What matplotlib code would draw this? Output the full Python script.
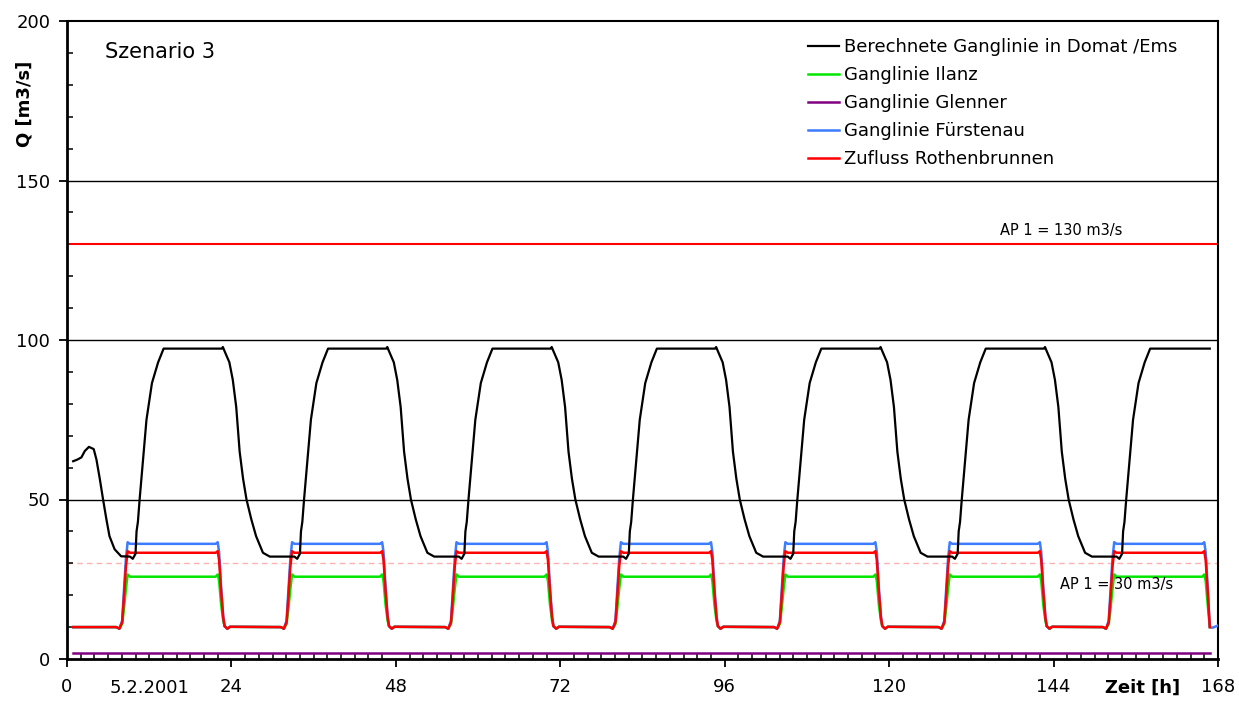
import matplotlib
matplotlib.use("Agg")
import matplotlib.pyplot as plt
from matplotlib.ticker import MultipleLocator, FixedLocator
import matplotlib.transforms as mtransforms

# --- Berechnete Ganglinie Domat/Ems [m3/s] -------------------------------
domat_h = [
    0.9, 1.5, 2.1, 2.6, 3.2, 3.9, 4.3, 4.8, 5.25, 5.75, 6.2, 6.95, 7.9,
    9.2, 9.6, 10.0, 10.15, 10.35, 10.6, 11.1, 11.6, 12.4, 13.3, 14.1, 22.6, 22.75,
    23.0, 23.7, 24.2, 24.7, 25.2, 25.7, 26.2, 26.9, 27.6, 28.6, 29.6,
    33.2, 33.6, 34.0, 34.15, 34.35, 34.6, 35.1, 35.6, 36.4, 37.3, 38.1, 46.6, 46.75,
    47.0, 47.7, 48.2, 48.7, 49.2, 49.7, 50.2, 50.9, 51.6, 52.6, 53.6,
    57.2, 57.6, 58.0, 58.15, 58.35, 58.6, 59.1, 59.6, 60.4, 61.3, 62.1, 70.6, 70.75,
    71.0, 71.7, 72.2, 72.7, 73.2, 73.7, 74.2, 74.9, 75.6, 76.6, 77.6,
    81.2, 81.6, 82.0, 82.15, 82.35, 82.6, 83.1, 83.6, 84.4, 85.3, 86.1, 94.6, 94.75,
    95.0, 95.7, 96.2, 96.7, 97.2, 97.7, 98.2, 98.9, 99.6, 100.6, 101.6,
    105.2, 105.6, 106.0, 106.15, 106.35, 106.6, 107.1, 107.6, 108.4, 109.3, 110.1, 118.6, 118.75,
    119.0, 119.7, 120.2, 120.7, 121.2, 121.7, 122.2, 122.9, 123.6, 124.6, 125.6,
    129.2, 129.6, 130.0, 130.15, 130.35, 130.6, 131.1, 131.6, 132.4, 133.3, 134.1, 142.6, 142.75,
    143.0, 143.7, 144.2, 144.7, 145.2, 145.7, 146.2, 146.9, 147.6, 148.6, 149.6,
    153.2, 153.6, 154.0, 154.15, 154.35, 154.6, 155.1, 155.6, 156.4, 157.3, 158.1, 166.8,
]
domat_q = [
    62.0, 62.5, 63.2, 65.2, 66.5, 65.8, 62.5, 56.3, 50.2, 43.8, 38.5, 34.4, 32.2,
    32.1, 31.4, 33.0, 40.0, 43.0, 50.0, 62.5, 75.0, 86.5, 93.0, 97.3, 97.3, 97.8,
    96.5, 93.0, 87.5, 79.0, 65.0, 56.5, 50.0, 43.8, 38.5, 33.3, 32.1,
    32.1, 31.4, 33.0, 40.0, 43.0, 50.0, 62.5, 75.0, 86.5, 93.0, 97.3, 97.3, 97.8,
    96.5, 93.0, 87.5, 79.0, 65.0, 56.5, 50.0, 43.8, 38.5, 33.3, 32.1,
    32.1, 31.4, 33.0, 40.0, 43.0, 50.0, 62.5, 75.0, 86.5, 93.0, 97.3, 97.3, 97.8,
    96.5, 93.0, 87.5, 79.0, 65.0, 56.5, 50.0, 43.8, 38.5, 33.3, 32.1,
    32.1, 31.4, 33.0, 40.0, 43.0, 50.0, 62.5, 75.0, 86.5, 93.0, 97.3, 97.3, 97.8,
    96.5, 93.0, 87.5, 79.0, 65.0, 56.5, 50.0, 43.8, 38.5, 33.3, 32.1,
    32.1, 31.4, 33.0, 40.0, 43.0, 50.0, 62.5, 75.0, 86.5, 93.0, 97.3, 97.3, 97.8,
    96.5, 93.0, 87.5, 79.0, 65.0, 56.5, 50.0, 43.8, 38.5, 33.3, 32.1,
    32.1, 31.4, 33.0, 40.0, 43.0, 50.0, 62.5, 75.0, 86.5, 93.0, 97.3, 97.3, 97.8,
    96.5, 93.0, 87.5, 79.0, 65.0, 56.5, 50.0, 43.8, 38.5, 33.3, 32.1,
    32.1, 31.4, 33.0, 40.0, 43.0, 50.0, 62.5, 75.0, 86.5, 93.0, 97.3, 97.3,
]

# --- Zeitpunkte der Schwallstufen (Ilanz, Fürstenau, Rothenbrunnen) -------
stufen_h = [
    0.9,
    7.2, 7.65, 8.05, 8.3, 8.6, 8.85, 9.2, 21.7, 22.0, 22.2, 22.5, 22.8, 23.0, 23.4, 23.8,
    31.2, 31.65, 32.05, 32.3, 32.6, 32.85, 33.2, 45.7, 46.0, 46.2, 46.5, 46.8, 47.0, 47.4, 47.8,
    55.2, 55.65, 56.05, 56.3, 56.6, 56.85, 57.2, 69.7, 70.0, 70.2, 70.5, 70.8, 71.0, 71.4, 71.8,
    79.2, 79.65, 80.05, 80.3, 80.6, 80.85, 81.2, 93.7, 94.0, 94.2, 94.5, 94.8, 95.0, 95.4, 95.8,
    103.2, 103.65, 104.05, 104.3, 104.6, 104.85, 105.2, 117.7, 118.0, 118.2, 118.5, 118.8, 119.0, 119.4, 119.8,
    127.2, 127.65, 128.05, 128.3, 128.6, 128.85, 129.2, 141.7, 142.0, 142.2, 142.5, 142.8, 143.0, 143.4, 143.8,
    151.2, 151.65, 152.05, 152.3, 152.6, 152.85, 153.2, 165.7, 166.0, 166.2, 166.5, 166.8,
]
ilanz_q = [
    10.0,
    10.0, 9.5, 11.0, 15.5, 22.0, 26.5, 25.8, 25.8, 26.5, 24.5, 17.0, 12.0, 10.3, 9.5, 10.1,
    10.0, 9.5, 11.0, 15.5, 22.0, 26.5, 25.8, 25.8, 26.5, 24.5, 17.0, 12.0, 10.3, 9.5, 10.1,
    10.0, 9.5, 11.0, 15.5, 22.0, 26.5, 25.8, 25.8, 26.5, 24.5, 17.0, 12.0, 10.3, 9.5, 10.1,
    10.0, 9.5, 11.0, 15.5, 22.0, 26.5, 25.8, 25.8, 26.5, 24.5, 17.0, 12.0, 10.3, 9.5, 10.1,
    10.0, 9.5, 11.0, 15.5, 22.0, 26.5, 25.8, 25.8, 26.5, 24.5, 17.0, 12.0, 10.3, 9.5, 10.1,
    10.0, 9.5, 11.0, 15.5, 22.0, 26.5, 25.8, 25.8, 26.5, 24.5, 17.0, 12.0, 10.3, 9.5, 10.1,
    10.0, 9.5, 11.0, 15.5, 22.0, 26.5, 25.8, 25.8, 26.5, 24.5, 17.0, 10.0,
]
fuerstenau_q = [
    10.0,
    10.0, 9.5, 12.0, 21.0, 31.5, 36.6, 36.1, 36.1, 36.6, 33.5, 22.5, 13.5, 10.3, 9.5, 10.1,
    10.0, 9.5, 12.0, 21.0, 31.5, 36.6, 36.1, 36.1, 36.6, 33.5, 22.5, 13.5, 10.3, 9.5, 10.1,
    10.0, 9.5, 12.0, 21.0, 31.5, 36.6, 36.1, 36.1, 36.6, 33.5, 22.5, 13.5, 10.3, 9.5, 10.1,
    10.0, 9.5, 12.0, 21.0, 31.5, 36.6, 36.1, 36.1, 36.6, 33.5, 22.5, 13.5, 10.3, 9.5, 10.1,
    10.0, 9.5, 12.0, 21.0, 31.5, 36.6, 36.1, 36.1, 36.6, 33.5, 22.5, 13.5, 10.3, 9.5, 10.1,
    10.0, 9.5, 12.0, 21.0, 31.5, 36.6, 36.1, 36.1, 36.6, 33.5, 22.5, 13.5, 10.3, 9.5, 10.1,
    10.0, 9.5, 12.0, 21.0, 31.5, 36.6, 36.1, 36.1, 36.6, 33.5, 22.5, 10.0,
]
fuerstenau_ende_h = [167.2, 168.0]
fuerstenau_ende_q = [9.8, 10.5]
rothenbrunnen_q = [
    10.0,
    10.0, 9.5, 11.5, 19.0, 29.0, 33.8, 33.3, 33.3, 33.8, 31.0, 21.0, 13.0, 10.3, 9.5, 10.1,
    10.0, 9.5, 11.5, 19.0, 29.0, 33.8, 33.3, 33.3, 33.8, 31.0, 21.0, 13.0, 10.3, 9.5, 10.1,
    10.0, 9.5, 11.5, 19.0, 29.0, 33.8, 33.3, 33.3, 33.8, 31.0, 21.0, 13.0, 10.3, 9.5, 10.1,
    10.0, 9.5, 11.5, 19.0, 29.0, 33.8, 33.3, 33.3, 33.8, 31.0, 21.0, 13.0, 10.3, 9.5, 10.1,
    10.0, 9.5, 11.5, 19.0, 29.0, 33.8, 33.3, 33.3, 33.8, 31.0, 21.0, 13.0, 10.3, 9.5, 10.1,
    10.0, 9.5, 11.5, 19.0, 29.0, 33.8, 33.3, 33.3, 33.8, 31.0, 21.0, 13.0, 10.3, 9.5, 10.1,
    10.0, 9.5, 11.5, 19.0, 29.0, 33.8, 33.3, 33.3, 33.8, 31.0, 21.0, 10.0,
]
glenner_h = [0.9, 166.9]
glenner_q = [2.0, 2.0]

# Abflussgrenzen (AP 1)
ap_oben = 130
ap_unten = 30

x_ticks = [0, 24, 48, 72, 96, 120, 144, 168]
y_ticks = [0, 50, 100, 150, 200]

labels = [
    "Berechnete Ganglinie in Domat /Ems",
    "Ganglinie Ilanz",
    "Ganglinie Glenner",
    "Ganglinie Fürstenau",
    "Zufluss Rothenbrunnen",
]
colors = ["black", "#00e600", "#800080", "#3d7bff", "#ff0000"]

W, H = 1239, 706
fig = plt.figure(figsize=(W / 100, H / 100), dpi=100)
ax = fig.add_axes([67 / W, 1 - 659 / H, (1218 - 67) / W, (659 - 21) / H])

FS = 13

# Grid lines and limit lines
for yv in (50, 100, 150):
    ax.axhline(yv, color="black", lw=1.0, zorder=1)
ax.axhline(ap_oben, color="#ff0000", lw=1.5, zorder=2)
ax.axhline(ap_unten, color="#ffb0b0", lw=1.0, dashes=(4, 3), zorder=1)

l_dom, = ax.plot(domat_h, domat_q, color=colors[0], lw=1.6, zorder=5)
l_ila, = ax.plot(stufen_h, ilanz_q, color=colors[1], lw=1.8, zorder=3)
l_gle, = ax.plot(glenner_h, glenner_q, color=colors[2], lw=1.8, zorder=3)
l_fue, = ax.plot(stufen_h + fuerstenau_ende_h, fuerstenau_q + fuerstenau_ende_q,
                 color=colors[3], lw=1.8, zorder=3)
l_rot, = ax.plot(stufen_h, rothenbrunnen_q, color=colors[4], lw=1.8, zorder=4)

ax.set_xlim(0, 168)
ax.set_ylim(0, 200)

ax.xaxis.set_major_locator(FixedLocator(x_ticks))
ax.xaxis.set_minor_locator(MultipleLocator(2))
ax.yaxis.set_major_locator(FixedLocator(y_ticks))
ax.yaxis.set_minor_locator(MultipleLocator(10))

ax.tick_params(axis="both", which="major", direction="out", length=6, width=1.3,
               labelsize=FS, colors="black")
ax.tick_params(axis="x", which="major", pad=8)
ax.tick_params(axis="y", which="major", pad=6)
ax.tick_params(axis="both", which="minor", direction="in", length=4.5, width=1.1)

for side in ("left", "bottom"):
    ax.spines[side].set_linewidth(2.0)
for side in ("right", "top"):
    ax.spines[side].set_linewidth(1.5)

# Extra labels on the time axis
trans = mtransforms.blended_transform_factory(ax.transData, ax.transAxes)
ax.text(12, -0.0455, "5.2.2001", transform=trans, ha="center", va="center", fontsize=FS)
ax.text(157, -0.0455, "Zeit [h]", transform=trans, ha="center", va="center",
        fontsize=FS, fontweight="bold")

fig.text(25 / W, 1 - 104 / H, "Q [m3/s]", rotation=90, ha="center", va="center",
         fontsize=FS, fontweight="bold")

ax.text(105 / W, 1 - 52 / H, "Szenario 3", transform=fig.transFigure,
        ha="left", va="center", fontsize=15)

ax.text(145.1, 134.3, "AP 1 = 130 m3/s", ha="center", va="center", fontsize=10.5)
ax.text(144.9, 23.4, "AP 1 = 30 m3/s", ha="left", va="center", fontsize=10.5)

ax.legend([l_dom, l_ila, l_gle, l_fue, l_rot], labels,
          loc="upper left", bbox_to_anchor=(808 / W, 1 - 38 / H),
          bbox_transform=fig.transFigure, frameon=False, fontsize=FS,
          handlelength=1.7, handletextpad=0.3, labelspacing=0.56,
          borderpad=0, borderaxespad=0)

fig.savefig("out.png", dpi=100)
